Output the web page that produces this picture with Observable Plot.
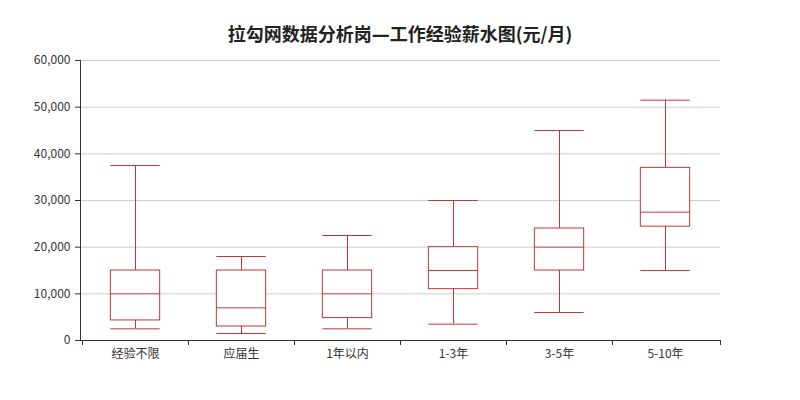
<!DOCTYPE html>
<html>
<head>
<meta charset="utf-8">
<script src="https://cdn.jsdelivr.net/npm/d3@7"></script>
<script src="https://cdn.jsdelivr.net/npm/@observablehq/plot@0.6"></script>
<style>
  body { margin: 0; background: #fff; font-family: "Noto Sans CJK SC", "Noto Sans", sans-serif; }
  #title { height: 50px; box-sizing: border-box; padding-top: 24px; line-height: 18px; text-align: center; font-size: 18px; font-weight: bold; color: #222; width: 800px; }
  .fw { font-family: "DejaVu Sans", sans-serif; }
</style>
</head>
<body>
<div id="title">拉勾网数据分析岗<span class="fw">—</span>工作经验薪水图(元/月)</div>
<div id="chart"></div>
<script>
const categories = ["经验不限", "应届生", "1年以内", "1-3年", "3-5年", "5-10年"];
const lowWhisker = [2500, 1500, 2500, 3500, 6000, 15000];
const q1 = [4300, 3000, 4800, 11000, 15000, 24400];
const median = [10000, 7000, 10000, 15000, 20000, 27500];
const q3 = [15000, 15000, 15000, 20000, 24000, 37000];
const highWhisker = [37500, 18000, 22500, 30000, 45000, 51500];
const yTicks = [0, 10000, 20000, 30000, 40000, 50000, 60000];

const rows = categories.map((c, i) => ({
  cat: c, lo: lowWhisker[i], q1: q1[i], med: median[i], q3: q3[i], hi: highWhisker[i]
}));

const color = "#c23531";
const W = 800, H = 350, mL = 80, mR = 80, mT = 10, mB = 60;
const band = (W - mL - mR) / categories.length;
const inset = (band - 50) / 2;

const axisLines = (index, scales, values, dimensions) => {
  const g = d3.create("svg:g");
  const {marginLeft, marginRight, marginTop, marginBottom, width, height} = dimensions;
  const y0 = height - marginBottom;
  g.append("line").attr("x1", marginLeft + 0.5).attr("x2", marginLeft + 0.5)
    .attr("y1", marginTop).attr("y2", y0).attr("stroke", "#333");
  g.append("line").attr("x1", marginLeft).attr("x2", width - marginRight)
    .attr("y1", y0 + 0.5).attr("y2", y0 + 0.5).attr("stroke", "#333");
  const edges = categories.map(c => scales.x(c)).concat([width - marginRight]);
  edges.forEach(x => {
    g.append("line").attr("x1", Math.round(x) + 0.5).attr("x2", Math.round(x) + 0.5)
      .attr("y1", y0).attr("y2", y0 + 5).attr("stroke", "#333");
  });
  return g.node();
};

const chart = Plot.plot({
  width: W, height: H,
  marginLeft: mL, marginRight: mR, marginTop: mT, marginBottom: mB,
  style: { fontFamily: "'Noto Sans CJK SC', 'Noto Sans', sans-serif", fontSize: "12px", color: "#333", background: "#fff" },
  x: { type: "band", domain: categories, paddingInner: 0, paddingOuter: 0, label: null },
  y: { domain: [0, 60000], label: null },
  marks: [
    Plot.gridY(yTicks, { stroke: "#ccc", strokeOpacity: 1 }),
    Plot.axisY(yTicks, { tickFormat: d3.format(","), tickSize: 5, tickPadding: 5, fontSize: 12, fill: "#333", stroke: "#333", label: null }),
    Plot.axisX({ tickSize: 0, tickPadding: 9, fontSize: 12, fill: "#333", label: null }),
    Plot.ruleX(rows, { x: "cat", y1: "lo", y2: "q1", stroke: color }),
    Plot.ruleX(rows, { x: "cat", y1: "q3", y2: "hi", stroke: color }),
    Plot.tickY(rows, { x: "cat", y: "lo", stroke: color, insetLeft: inset, insetRight: inset }),
    Plot.tickY(rows, { x: "cat", y: "hi", stroke: color, insetLeft: inset, insetRight: inset }),
    Plot.barY(rows, { x: "cat", y1: "q1", y2: "q3", fill: "#fff", stroke: color, strokeWidth: 1, insetLeft: inset, insetRight: inset }),
    Plot.tickY(rows, { x: "cat", y: "med", stroke: color, insetLeft: inset, insetRight: inset }),
    axisLines
  ]
});
document.getElementById("chart").appendChild(chart);
</script>
</body>
</html>
